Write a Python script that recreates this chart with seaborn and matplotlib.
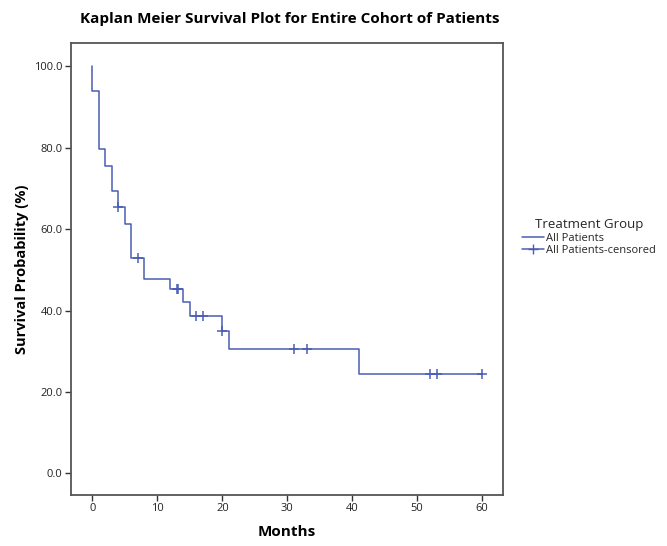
import matplotlib
matplotlib.use('Agg')
import matplotlib.pyplot as plt
import seaborn as sns
from matplotlib.lines import Line2D

# Kaplan-Meier curve (months, survival %)
step_months = [0, 0, 1, 2, 3, 4, 5, 6, 8, 12, 14, 15, 20, 21, 41, 60]
step_survival = [100.0, 94.0, 79.7, 75.6, 69.4, 65.5, 61.3, 52.8, 47.7, 45.2, 42.1, 38.7, 35.0, 30.5, 24.5, 24.5]

# censored observations
censor_months = [4, 7, 13, 13.2, 16, 17, 20, 31, 33, 52, 53, 60]
censor_survival = [65.5, 52.8, 45.2, 45.2, 38.7, 38.7, 35.0, 30.5, 30.5, 24.5, 24.5, 24.5]

y_ticks = [0, 20, 40, 60, 80, 100]
x_ticks = [0, 10, 20, 30, 40, 50, 60]

line_color = '#4a5db5'

sns.set_theme(style='white')
plt.rcParams['font.family'] = ['Open Sans', 'DejaVu Sans']

fig = plt.figure(figsize=(6.67, 5.46), dpi=100)
ax = fig.add_axes([0.1064, 0.0934, 0.6476, 0.8276])

sns.lineplot(x=step_months, y=step_survival, estimator=None, sort=False,
             drawstyle='steps-post', color=line_color, linewidth=1.1, ax=ax)
sns.scatterplot(x=censor_months, y=censor_survival, marker='+', s=45,
                color=line_color, linewidth=1.1, ax=ax, zorder=3)

ax.set_xlim(-3.3, 63.2)
ax.set_ylim(-5.3, 105.7)
ax.set_xticks(x_ticks)
ax.set_yticks(y_ticks)
ax.set_yticklabels([f'{v:.1f}' for v in y_ticks])
ax.tick_params(axis='both', direction='out', length=4, width=1, color='#333333',
               labelsize=8, labelcolor='#222222', pad=2, bottom=True, left=True)
for s in ax.spines.values():
    s.set_color('#555555')
    s.set_linewidth(1.3)

ax.set_xlabel('Months', fontsize=11, fontweight='bold', labelpad=8, color='black')
ax.set_ylabel('Survival Probability (%)', fontsize=10.5, fontweight='bold', labelpad=4, color='black')
fig.text(0.434, 0.965, 'Kaplan Meier Survival Plot for Entire Cohort of Patients',
         ha='center', va='center', fontsize=11, fontweight='bold', color='black')

handles = [Line2D([], [], color=line_color, linewidth=1.1),
           Line2D([], [], color=line_color, linewidth=1.1, marker='+', markersize=7)]
leg = fig.legend(handles, ['All Patients', 'All Patients-censored'],
                 title='Treatment Group', loc='upper left', bbox_to_anchor=(0.774, 0.61),
                 frameon=False, fontsize=8, title_fontsize=9.5, handlelength=2,
                 handletextpad=0.2, labelspacing=0.1, borderpad=0)

fig.savefig('out.png', dpi=100)
